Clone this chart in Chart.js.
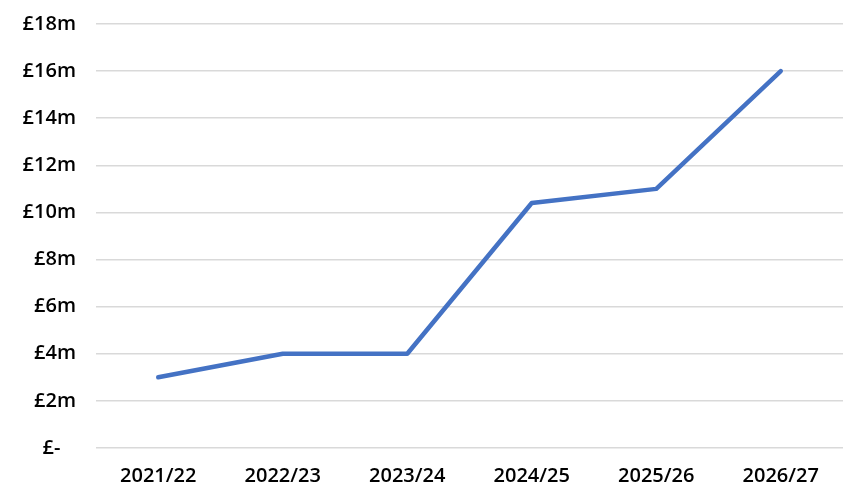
<!DOCTYPE html>
<html>
<head>
<meta charset="utf-8">
<script src="https://cdn.jsdelivr.net/npm/chart.js@4"></script>
<style>
	body { margin: 0; background: #ffffff; }
	#wrap { width: 866px; height: 501px; }
</style>
</head>
<body>
<div id="wrap"><canvas id="funding" width="866" height="501"></canvas></div>
<script>
var years = ['2021/22', '2022/23', '2023/24', '2024/25', '2025/26', '2026/27']
var funding = [3, 4, 4, 10.4, 11, 16]
var yTicks = [0, 2, 4, 6, 8, 10, 12, 14, 16, 18]

function money(v)
{
	if(v == 0)
		return '£-   '
	return '£' + v + 'm'
}

window.onload = function()
{
	var ctx = document.getElementById('funding')
	var chart = new Chart(ctx, {
    type: 'line',
    data: {
        labels: years,
        datasets: [{
            data: funding,
            borderColor: '#4472C4',
            borderWidth: 4.5,
            borderCapStyle: 'round',
            borderJoinStyle: 'round',
            pointRadius: 0,
            fill: false,
            tension: 0
        }]
    },
    options: {
    	responsive: false,
    	animation: false,
    	layout:
    	{
    		padding: { top: 24, right: 23, left: 0, bottom: 0 }
    	},
    	plugins:
    	{
    		legend: { display: false },
    		tooltip: { enabled: false }
    	},
        scales: {
            y:
            {
                min: 0,
                max: 18,
                afterBuildTicks: function(scale)
                {
                	scale.ticks = yTicks.map(function(v){ return { value: v } })
                },
                afterFit: function(scale)
                {
                	scale.width = 96
                	scale.paddingTop = 0
                	scale.paddingBottom = 0
                },
            	ticks:
	            {
	            	color: '#000000',
	            	padding: 20,
	            	font: { family: 'Open Sans', size: 20, weight: '600' },
	            	callback: function(v){ return money(v) }
	            },
	            border: { display: false },
	            grid:
            	{
            		color: '#d9d9d9',
            		lineWidth: 1.5,
            		drawTicks: false
            	}
	        },
            x:
            {
            	offset: true,
            	afterFit: function(scale)
            	{
            		scale.height = 53
            		scale.paddingLeft = 0
            		scale.paddingRight = 0
            	},
            	border: { display: false },
            	grid: { display: false, offset: true },
				ticks:
	            {
	            	color: '#000000',
	            	padding: 8,
	            	maxRotation: 0,
	            	font: { family: 'Open Sans', size: 20, weight: '600' }
	            }
            }
        }
    }
	})
}
</script>
</body>
</html>
